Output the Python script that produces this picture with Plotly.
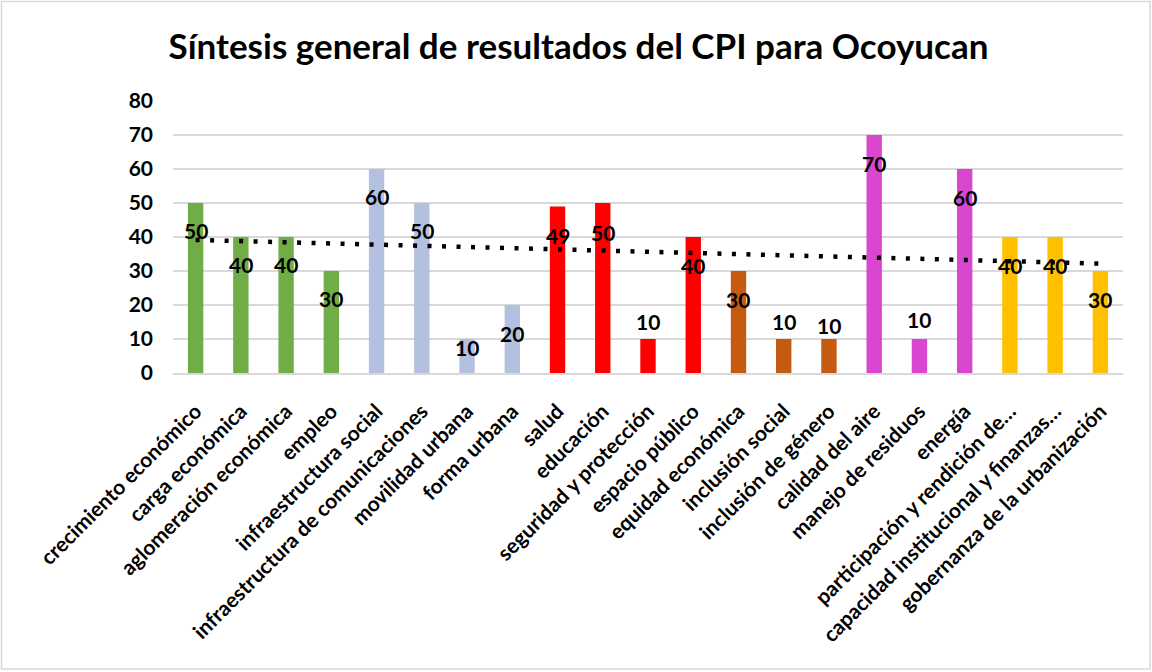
import numpy as np
import plotly.graph_objects as go

# Indicator names as shown on the category axis
categories = [
    "crecimiento económico", "carga económica", "aglomeración económica", "empleo",
    "infraestructura social", "infraestructura de comunicaciones", "movilidad urbana",
    "forma urbana", "salud", "educación", "seguridad y protección", "espacio público",
    "equidad económica", "inclusión social", "inclusión de género", "calidad del aire",
    "manejo de residuos", "energía", "participación y rendición de…",
    "capacidad institucional y finanzas…", "gobernanza de la urbanización",
]

# CPI score per indicator
scores = [50, 40, 40, 30, 60, 50, 10, 20, 49, 50, 10, 40, 30, 10, 10, 70, 10, 60, 40, 40, 30]

# Dimension colour for each bar
bar_colors = (["#70AD47"] * 4 + ["#B4C0E0"] * 4 + ["#FF0000"] * 4
              + ["#C55A11"] * 3 + ["#D946CF"] * 3 + ["#FFC000"] * 3)

# Vertical offset (px) of each value label from the bar top
label_shift = [-27, -27, -27, -27, -27, -27, -8, -28, -29, -29, 18, -28,
               -28, 18, 14, -28, 20, -28, -28, -28, -28]

# Linear trend across the indicators
idx = np.arange(1, len(scores) + 1)
slope, intercept = np.polyfit(idx, scores, 1)
trend = slope * idx + intercept

fig = go.Figure()
fig.add_trace(go.Bar(
    x=categories, y=scores, marker=dict(color=bar_colors, line=dict(width=0)),
    hoverinfo="x+y", showlegend=False,
))
fig.add_trace(go.Scatter(
    x=categories, y=trend, mode="lines",
    line=dict(color="black", width=4.5, dash="4px,10.5px"),
    hoverinfo="skip", showlegend=False,
))

for c, v, s in zip(categories, scores, label_shift):
    fig.add_annotation(
        x=c, y=v, text=str(v), showarrow=False, yshift=s,
        font=dict(family="Lato", size=21, color="black", weight="bold"),
    )

L, R, T, B = 173, 29, 101, 299
W, H = 1152, 672
pw, ph = W - L - R, H - T - B

def px_x(px):
    return (px - L) / pw

def px_y(py):
    return (H - B - py) / ph

fig.add_shape(type="rect", xref="paper", yref="paper",
              x0=px_x(1.5), x1=px_x(1150), y0=px_y(669), y1=px_y(1.5),
              line=dict(color="#D9D9D9", width=1.5), fillcolor="rgba(0,0,0,0)",
              layer="below")

fig.update_layout(
    width=W, height=H,
    margin=dict(l=L, r=R, t=T, b=B, autoexpand=False),
    paper_bgcolor="white", plot_bgcolor="white",
    bargap=0.66,
    title=dict(
        text="Síntesis general de resultados del CPI para Ocoyucan",
        x=(172 + 985) / 2 / W, xanchor="center", y=1 - 47 / H, yanchor="middle",
        font=dict(family="Lato", size=35, color="black", weight="bold"),
    ),
    font=dict(family="Lato", color="black"),
)
fig.update_yaxes(
    range=[0, 80], dtick=10, showgrid=True, gridcolor="#D9D9D9", gridwidth=1.5,
    zeroline=False, showline=False, ticks="", ticklabelstandoff=19,
    tickfont=dict(family="Lato", size=21, color="black", weight="bold"),
)
fig.update_xaxes(
    showline=True, linecolor="#D9D9D9", linewidth=1.5, ticks="",
    tickangle=-45, ticklabelstandoff=16,
    tickfont=dict(family="Lato", size=21, color="black", weight="bold"),
)

fig.write_html("out.html")
